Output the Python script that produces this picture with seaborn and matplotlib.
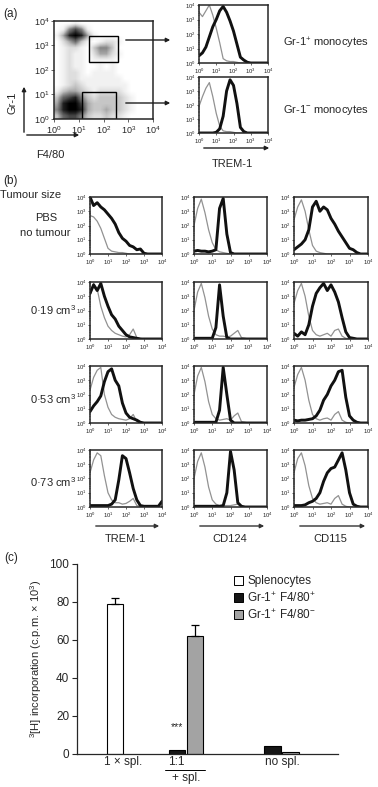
import numpy as np
import pandas as pd
import matplotlib
matplotlib.use("Agg")
import matplotlib.pyplot as plt
from matplotlib.colors import PowerNorm
from matplotlib.patches import Patch, Rectangle, FancyArrowPatch
import seaborn as sns

# ---------------- data ----------------
# (a) Gr-1 / F4/80 dot plot: event density per quarter-decade cell
# (0 = empty ... 9 = saturated). Rows run from Gr-1 10^4 down to 10^0,
# columns from F4/80 10^0 up to 10^4.
dot_density = [
    "0001000000000000",
    "0157510000000000",
    "1489841000000000",
    "0246310122100000",
    "0122103553000000",
    "0121102442100000",
    "0121101111000000",
    "0121100101000000",
    "0122101111000000",
    "0122111111100000",
    "0123211111110000",
    "1344321222210000",
    "3678532333321000",
    "4899743333321000",
    "5899843343321000",
    "3677532232210000",
]
# gates on the dot plot (log10 units): x0, x1, y0, y1
gate_gr1_pos = [1.42, 2.58, 2.31, 3.38]
gate_gr1_neg = [1.14, 2.51, 0.0, 1.12]

# histograms: log10(events) read every 0.2 decade of fluorescence (10^0 .. 10^4)
log_bins = np.round(np.arange(0, 4.01, 0.2), 1)

gr1pos_iso   = [3.5, 3.2, 3.6, 4.0, 3.3, 2.4, 1.4, 0.3, 0.15, 0.1, 0.1, 0.05, 0, 0, 0, 0, 0, 0, 0, 0, 0]
gr1pos_trem1 = [0.5, 0.7, 1.1, 1.8, 2.5, 3.0, 3.6, 3.9, 3.5, 2.9, 2.2, 1.3, 0.4, 0.2, 0.05, 0, 0, 0, 0, 0, 0]
gr1neg_iso   = [1.9, 2.6, 3.2, 3.6, 2.6, 1.4, 0.5, 0.15, 0.1, 0.1, 0.05, 0, 0, 0, 0, 0, 0, 0, 0, 0, 0]
gr1neg_trem1 = [0, 0, 0, 0, 0, 0.05, 0.3, 1.2, 3.0, 3.8, 3.4, 2.1, 0.4, 0.1, 0, 0, 0, 0, 0, 0, 0]

tumour_sizes = ["PBS\nno tumour", "0·19 cm$^{3}$", "0·53 cm$^{3}$", "0·73 cm$^{3}$"]
markers = ["TREM-1", "CD124", "CD115"]

# one list per tumour size (PBS, 0.19, 0.53, 0.73)
trem1_iso = [
    [2.7, 2.6, 2.3, 1.8, 1.1, 0.4, 0.2, 0.15, 0.1, 0.1, 0.05, 0, 0, 0, 0, 0, 0, 0, 0, 0, 0],
    [3.0, 3.9, 3.5, 2.3, 1.5, 0.9, 0.6, 0.4, 0.3, 0.2, 0.15, 0.3, 0.7, 0.1, 0.05, 0, 0, 0, 0, 0, 0],
    [2.3, 3.2, 3.7, 3.9, 2.0, 1.1, 0.6, 0.4, 0.3, 0.25, 0.2, 0.3, 0.6, 0.1, 0.05, 0, 0, 0, 0, 0, 0],
    [2.4, 3.3, 3.8, 3.6, 2.2, 1.0, 0.5, 0.3, 0.3, 0.2, 0.25, 0.4, 0.6, 0.1, 0.05, 0, 0, 0, 0, 0, 0],
]
trem1_stain = [
    [4.0, 3.4, 3.6, 3.3, 3.1, 2.8, 2.5, 2.1, 1.5, 1.1, 0.9, 0.6, 0.5, 0.3, 0.35, 0.05, 0, 0, 0, 0, 0],
    [3.2, 3.8, 3.4, 3.9, 3.0, 2.3, 1.7, 1.4, 0.9, 0.6, 0.3, 0.15, 0.1, 0.05, 0, 0, 0, 0, 0, 0, 0],
    [0.8, 1.2, 1.5, 1.9, 2.9, 3.6, 3.8, 3.0, 2.6, 1.4, 0.7, 0.4, 0.3, 0.2, 0.05, 0, 0, 0, 0, 0, 0],
    [0.1, 0.1, 0.1, 0.1, 0.1, 0.1, 0.2, 0.5, 1.9, 3.6, 3.4, 2.4, 1.3, 0.5, 0.1, 0.05, 0.05, 0.05, 0.05, 0.05, 0.4],
]
cd124_iso = [
    [2.0, 3.2, 3.85, 2.9, 1.7, 0.8, 0.3, 0.15, 0.1, 0.05, 0, 0, 0, 0, 0, 0, 0, 0, 0, 0, 0],
    [2.0, 3.3, 3.9, 2.9, 1.6, 0.7, 0.3, 0.2, 0.2, 0.15, 0.2, 0.4, 0.6, 0.1, 0.05, 0, 0, 0, 0, 0, 0],
    [2.0, 3.3, 3.9, 2.9, 1.5, 0.6, 0.3, 0.2, 0.25, 0.3, 0.2, 0.5, 0.7, 0.1, 0.05, 0, 0, 0, 0, 0, 0],
    [2.0, 3.2, 3.8, 2.8, 1.4, 0.5, 0.2, 0.1, 0.1, 0.1, 0.1, 0.15, 0.2, 0.05, 0, 0, 0, 0, 0, 0, 0],
]
cd124_stain = [
    [0.2, 0.25, 0.2, 0.2, 0.15, 0.2, 0.3, 3.2, 3.9, 1.4, 0.1, 0, 0, 0, 0, 0, 0, 0, 0, 0, 0],
    [0.05, 0.05, 0.05, 0.05, 0.05, 0.05, 0.8, 3.8, 1.6, 0.1, 0, 0, 0, 0, 0, 0, 0, 0, 0, 0, 0],
    [0.05, 0.05, 0.05, 0.05, 0.05, 0.05, 0.05, 0.9, 3.9, 2.0, 0.2, 0, 0, 0, 0, 0, 0, 0, 0, 0, 0],
    [0.05, 0.05, 0.05, 0.05, 0.05, 0.05, 0.05, 0.05, 0.1, 1.0, 3.9, 2.6, 0.3, 0.05, 0, 0, 0, 0, 0, 0, 0],
]
cd115_iso = [
    [2.4, 3.3, 3.8, 3.0, 1.7, 0.6, 0.2, 0.1, 0.05, 0, 0, 0, 0, 0, 0, 0, 0, 0, 0, 0, 0],
    [2.5, 3.4, 3.9, 3.0, 1.6, 0.6, 0.3, 0.2, 0.3, 0.4, 0.2, 0.6, 0.7, 0.2, 0.05, 0, 0, 0, 0, 0, 0],
    [2.5, 3.4, 3.9, 3.0, 1.6, 0.6, 0.3, 0.2, 0.3, 0.35, 0.2, 0.6, 0.8, 0.2, 0.05, 0, 0, 0, 0, 0, 0],
    [2.4, 3.4, 3.8, 2.9, 1.5, 0.6, 0.3, 0.2, 0.25, 0.3, 0.2, 0.6, 0.8, 0.2, 0.05, 0, 0, 0, 0, 0, 0],
]
cd115_stain = [
    [0.3, 0.5, 0.7, 1.0, 1.7, 3.3, 3.7, 3.0, 3.3, 3.1, 2.5, 2.1, 1.6, 1.2, 0.8, 0.4, 0.3, 0.1, 0, 0, 0],
    [0.4, 0.2, 0.5, 0.3, 1.0, 2.3, 3.2, 3.6, 3.9, 3.4, 3.8, 3.3, 2.6, 1.5, 0.5, 0.1, 0.05, 0, 0, 0, 0],
    [0.2, 0.15, 0.2, 0.2, 0.25, 0.3, 0.5, 0.9, 1.6, 2.0, 2.6, 3.0, 3.6, 3.7, 1.8, 0.5, 0.2, 0.05, 0, 0, 0],
    [0.1, 0.1, 0.1, 0.15, 0.3, 0.4, 0.6, 1.0, 1.8, 2.4, 2.7, 2.8, 3.3, 3.8, 2.6, 1.0, 0.2, 0.05, 0, 0, 0],
]

# (c) 3[H] incorporation (c.p.m. x 10^3)
cell_types = ["Splenocytes", "Gr-1$^{+}$ F4/80$^{+}$", "Gr-1$^{+}$ F4/80$^{-}$"]
bar_colors = ["white", "#161616", "#a3a3a3"]
spleno_mean = [79.0]
spleno_err = [3.0]
f480pos_mean = [2.0, 4.0]          # 1:1 + spl., no spl.
f480neg_mean = [62.0, 1.0]
f480neg_err = [6.0, 0.0]

# ---------------- style ----------------
sns.set_theme(style="ticks", rc={"axes.linewidth": 1.0})
plt.rcParams["font.family"] = ["Liberation Sans", "DejaVu Sans"]
plt.rcParams["mathtext.default"] = "regular"

W, H = 378, 787
LABEL = 8
fig = plt.figure(figsize=(W / 100, H / 100), dpi=100)


def add_ax(x0, y0, x1, y1):
    return fig.add_axes([x0 / W, 1 - y1 / H, (x1 - x0) / W, (y1 - y0) / H])


def ftext(x, y, s, **kw):
    kw.setdefault("fontsize", LABEL)
    kw.setdefault("va", "center")
    fig.text(x / W, 1 - y / H, s, **kw)


def farrow(x0, y0, x1, y1, color="#1e1e1e"):
    fig.add_artist(FancyArrowPatch((x0 / W, 1 - y0 / H), (x1 / W, 1 - y1 / H),
                                   transform=fig.transFigure, arrowstyle="-|>",
                                   mutation_scale=6, lw=1.0, color=color))


decade_labels = [f"$10^{{{i}}}$" for i in range(5)]
minor_log = [d + np.log10(m) for d in range(4) for m in range(2, 10)]


def log_axes(ax, size, lw=1.0):
    ax.set_xlim(0, 4)
    ax.set_ylim(0, 4)
    ax.set_xticks(range(5))
    ax.set_xticklabels(decade_labels)
    ax.set_yticks(range(5))
    ax.set_yticklabels(decade_labels)
    ax.tick_params(labelsize=size, length=1.5, width=0.5, pad=1)
    ax.set_xlabel("")
    ax.set_ylabel("")
    for s in ax.spines.values():
        s.set_linewidth(lw)


def histogram(ax, iso, stain):
    sns.lineplot(x=log_bins, y=iso, ax=ax, color="#929292", lw=0.9)
    sns.lineplot(x=log_bins, y=stain, ax=ax, color="#111111", lw=2.1)
    log_axes(ax, 4.2, lw=1.1)
    ax.set_yticks(minor_log, minor=True)
    ax.tick_params(axis="y", which="minor", length=1, width=0.4)


# ---------------- (a) ----------------
ftext(3, 14, "(a)", fontsize=8.5)
ax_dot = add_ax(54, 21, 153, 119)
density = np.array([[int(c) for c in row] for row in dot_density])
ax_dot.imshow(density, extent=[0, 4, 0, 4], cmap="Greys", norm=PowerNorm(1.0, vmin=0, vmax=9),
              interpolation="bilinear", aspect="auto", origin="upper")
for g in (gate_gr1_pos, gate_gr1_neg):
    ax_dot.add_patch(Rectangle((g[0], g[2]), g[1] - g[0], g[3] - g[2], fill=False, lw=1.0, ec="black"))
log_axes(ax_dot, 6.5, lw=1.1)
ax_dot.tick_params(length=2.5)

farrow(24, 135, 24, 84)
farrow(24, 135, 82, 135)
ftext(13, 103, "Gr-1", rotation=90, ha="center")
ftext(50, 155, "F4/80", ha="center")
farrow(123, 40, 173, 40)
farrow(123, 103, 173, 103)

histogram(add_ax(199, 5, 268, 63), gr1pos_iso, gr1pos_trem1)
histogram(add_ax(199, 77, 268, 133), gr1neg_iso, gr1neg_trem1)
farrow(201, 148, 272, 148)
ftext(232, 164, "TREM-1", ha="center")
ftext(326, 43, "Gr-1$^{+}$ monocytes", ha="center")
ftext(326, 110, "Gr-1$^{-}$ monocytes", ha="center")

# ---------------- (b) ----------------
ftext(3, 181, "(b)", fontsize=8.5)
ftext(0, 195, "Tumour size", ha="left")
col_x = [(90, 162), (194, 267), (294, 368)]
row_top = [197, 282, 366, 450]
hist_h = 57
iso_sets = [trem1_iso, cd124_iso, cd115_iso]
stain_sets = [trem1_stain, cd124_stain, cd115_stain]
for r in range(len(tumour_sizes)):
    for c in range(len(markers)):
        ax = add_ax(col_x[c][0], row_top[r], col_x[c][1], row_top[r] + hist_h)
        histogram(ax, iso_sets[c][r], stain_sets[c][r])

pbs, no_tum = tumour_sizes[0].split("\n")
ftext(46, 218, pbs, ha="center")
ftext(45, 233, no_tum, ha="center")
for r, y in zip(range(1, 4), [310, 399, 482]):
    ftext(76, y, tumour_sizes[r], ha="right")

for (x0, x1), lab in zip(col_x, markers):
    farrow(x0 + 3, 526, x1, 526, color="#333333")
    ftext((x0 + x1) / 2 - 1, 539, lab, ha="center")

# ---------------- (c) ----------------
ftext(4, 558, "(c)", fontsize=8.5)
axc = add_ax(77, 564, 338, 754)
group_x = [2.1, 6.05, 11.35]
df = pd.DataFrame({
    "pos": [group_x[0], group_x[1] - 0.5, group_x[1] + 0.5, group_x[2] - 0.5, group_x[2] + 0.5],
    "val": [spleno_mean[0], f480pos_mean[0], f480neg_mean[0], f480pos_mean[1], f480neg_mean[1]],
    "err": [spleno_err[0], 0, f480neg_err[0], 0, f480neg_err[1]],
    "cell": [cell_types[0], cell_types[1], cell_types[2], cell_types[1], cell_types[2]],
})
sns.barplot(data=df, x="pos", y="val", hue="cell", hue_order=cell_types,
            palette=dict(zip(cell_types, bar_colors)), native_scale=True, dodge=False,
            width=0.92, errorbar=None, edgecolor="black", linewidth=0.8, legend=False, ax=axc)
has_err = df[df["err"] > 0]
axc.errorbar(has_err["pos"], has_err["val"], yerr=[np.zeros(len(has_err)), has_err["err"]],
             fmt="none", ecolor="black", elinewidth=0.9, capsize=3, capthick=0.9)
axc.set_xlim(0, 14.5)
axc.set_ylim(0, 100)
axc.set_yticks(range(0, 101, 20))
axc.set_xticks([])
axc.set_xlabel("")
axc.set_ylabel("$^{3}$[H] incorporation (c.p.m. × 10$^{3}$)", fontsize=8, labelpad=4)
axc.tick_params(axis="y", labelsize=8.5, length=3.5, width=0.8, pad=2)
sns.despine(ax=axc)
axc.spines["left"].set_linewidth(0.9)
axc.spines["bottom"].set_linewidth(0.9)
axc.text(group_x[1] - 0.5, 14, "***", ha="center", va="center", fontsize=7.5)

tr = axc.get_xaxis_transform()
axc.text(2.57, -0.042, "1 × spl.", transform=tr, ha="center", va="center", fontsize=8.5)
axc.text(5.54, -0.042, "1:1", transform=tr, ha="center", va="center", fontsize=8.5)
axc.plot([4.89, 7.11], [-0.084, -0.084], transform=tr, color="black", lw=0.7, clip_on=False)
axc.text(6.09, -0.128, "+ spl.", transform=tr, ha="center", va="center", fontsize=8.5)
axc.text(11.43, -0.042, "no spl.", transform=tr, ha="center", va="center", fontsize=8.5)

handles = [Patch(facecolor=c, edgecolor="black", lw=0.7, label=l) for c, l in zip(bar_colors, cell_types)]
axc.legend(handles=handles, loc="upper left", bbox_to_anchor=(0.6, 0.94), frameon=False,
           fontsize=8.5, handlelength=0.8, handleheight=0.8, handletextpad=0.35,
           labelspacing=0.3, borderpad=0, borderaxespad=0)

fig.savefig("out.png", dpi=100)
